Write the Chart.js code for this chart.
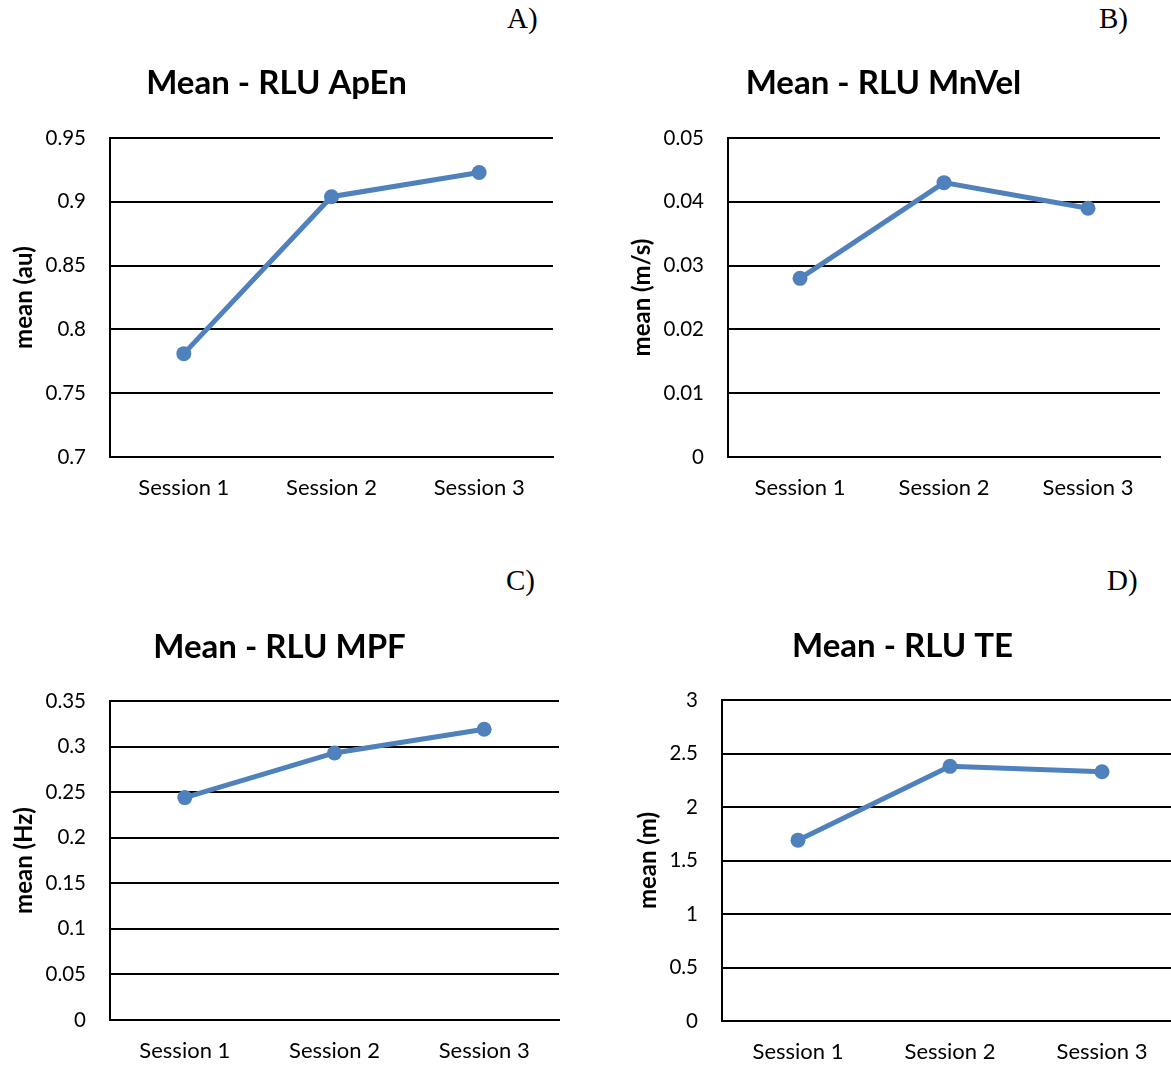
<!DOCTYPE html>
<html>
<head>
<meta charset="utf-8">
<script src="https://cdn.jsdelivr.net/npm/chart.js@4.4.1/dist/chart.umd.min.js"></script>
<style>
  html, body { margin: 0; padding: 0; background: #fff; }
  body { width: 1171px; height: 1067px; position: relative; overflow: hidden; }
  .box { position: absolute; }
  .tag { position: absolute; font-family: 'Liberation Serif', serif; font-size: 29px; color: #000; line-height: 1; }
</style>
</head>
<body>
<div class="tag" style="left:507px;top:4px">A)</div>
<div class="tag" style="left:1099px;top:4px">B)</div>
<div class="tag" style="left:506px;top:566px">C)</div>
<div class="tag" style="left:1107px;top:566px">D)</div>

<div class="box" style="left:0;top:0;width:554px;height:530px"><canvas id="c-apen"></canvas></div>
<div class="box" style="left:607px;top:0;width:564px;height:530px"><canvas id="c-mnvel"></canvas></div>
<div class="box" style="left:0;top:540px;width:560px;height:527px"><canvas id="c-mpf"></canvas></div>
<div class="box" style="left:627px;top:540px;width:551px;height:527px"><canvas id="c-te"></canvas></div>

<script>
/* datos */
const sessions = ['Session 1', 'Session 2', 'Session 3'];

const apenMean  = [0.781, 0.904, 0.923];
const mnvelMean = [0.028, 0.043, 0.039];
const mpfMean   = [0.244, 0.293, 0.319];
const teMean    = [1.69, 2.38, 2.33];

// etiquetas del eje y, de abajo hacia arriba
const apenTicks  = ['0.7', '0.75', '0.8', '0.85', '0.9', '0.95'];
const mnvelTicks = ['0', '0.01', '0.02', '0.03', '0.04', '0.05'];
const mpfTicks   = ['0', '0.05', '0.1', '0.15', '0.2', '0.25', '0.3', '0.35'];
const teTicks    = ['0', '0.5', '1', '1.5', '2', '2.5', '3'];

const FONT = "Lato, 'Open Sans', sans-serif";
const BLUE = '#4F81BD';

function makeChart(id, cfg) {
  const ctx = document.getElementById(id).getContext('2d');
  return new Chart(ctx, {
    type: 'line',
    data: {
      labels: sessions,
      datasets: [{
        data: cfg.data,
        borderColor: BLUE,
        backgroundColor: BLUE,
        borderWidth: 5,
        pointRadius: 7.5,
        pointHoverRadius: 7.5,
        pointBorderWidth: 0,
        tension: 0,
      }],
    },
    options: {
      responsive: true,
      maintainAspectRatio: false,
      animation: false,
      layout: { autoPadding: false, padding: { left: 0, right: cfg.padRight, top: 0, bottom: 0 } },
      plugins: {
        legend: { display: false },
        tooltip: { enabled: false },
        title: {
          display: true,
          text: cfg.title,
          color: '#000',
          font: { family: FONT, size: 33, weight: 'bold', lineHeight: '40px' },
          padding: { top: cfg.titleTop, bottom: cfg.titleBottom },
        },
      },
      scales: {
        x: {
          offset: true,
          grid: { display: false, drawTicks: false },
          border: { display: true, color: '#000', width: 2 },
          ticks: { color: '#000', padding: 18, font: { family: FONT, size: 22 } },
          afterFit: s => { s.height = cfg.xHeight; },
        },
        y: {
          min: cfg.min,
          max: cfg.max,
          grid: { color: '#000', lineWidth: 2, drawTicks: false },
          border: { display: true, color: '#000', width: 2 },
          ticks: {
            stepSize: cfg.step,
            color: '#000',
            padding: 24,
            font: { family: FONT, size: 20.5 },
            callback: (v, i) => cfg.ticks[i],
          },
          title: {
            display: true,
            text: cfg.yTitle,
            color: '#000',
            font: { family: FONT, size: 24, weight: 'bold', lineHeight: '26px' },
            padding: { top: cfg.yTitleOff, bottom: 0 },
          },
          afterFit: s => { s.width = cfg.yWidth; },
        },
      },
    },
  });
}

makeChart('c-apen', {
  title: 'Mean - RLU ApEn', yTitle: 'mean (au)', data: apenMean, ticks: apenTicks,
  min: 0.7, max: 0.95, step: 0.05,
  yWidth: 110, padRight: 1, xHeight: 73, titleTop: 63, titleBottom: 35, yTitleOff: 11,
});

makeChart('c-mnvel', {
  title: 'Mean - RLU MnVel', yTitle: 'mean (m/s)', data: mnvelMean, ticks: mnvelTicks,
  min: 0, max: 0.05, step: 0.01,
  yWidth: 121, padRight: 11, xHeight: 73, titleTop: 63, titleBottom: 35, yTitleOff: 22,
});

makeChart('c-mpf', {
  title: 'Mean - RLU MPF', yTitle: 'mean (Hz)', data: mpfMean, ticks: mpfTicks,
  min: 0, max: 0.35, step: 0.05,
  yWidth: 110, padRight: 1, xHeight: 47, titleTop: 87, titleBottom: 34, yTitleOff: 11,
});

makeChart('c-te', {
  title: 'Mean - RLU TE', yTitle: 'mean (m)', data: teMean, ticks: teTicks,
  min: 0, max: 3, step: 0.5,
  yWidth: 95, padRight: 0, xHeight: 46, titleTop: 86, titleBottom: 34, yTitleOff: 8,
});
</script>
</body>
</html>
